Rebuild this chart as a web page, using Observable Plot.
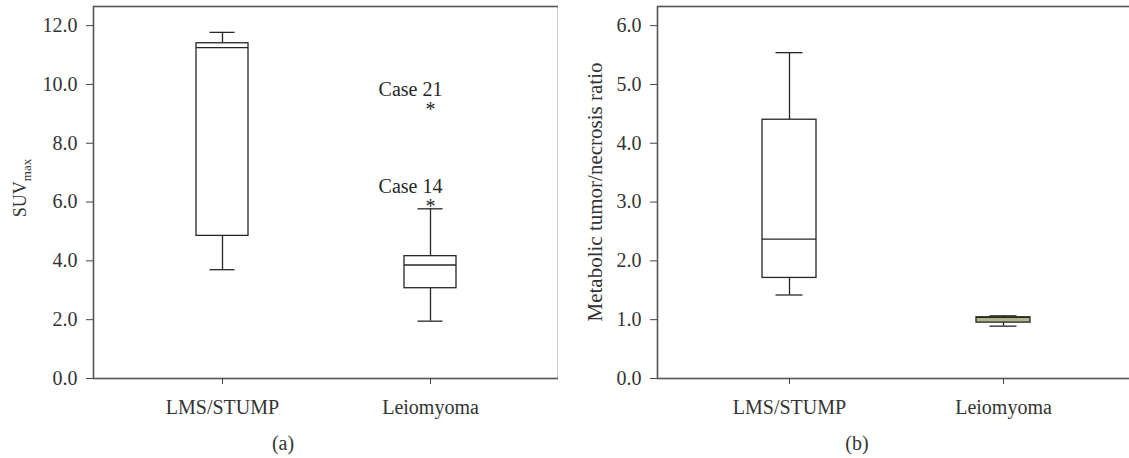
<!DOCTYPE html>
<html><head><meta charset="utf-8">
<script src="https://cdn.jsdelivr.net/npm/d3@7"></script>
<script src="https://cdn.jsdelivr.net/npm/@observablehq/plot@0.6"></script>
<style>
body{margin:0;background:#fff}
#wrap{position:relative;width:1129px;height:458px;overflow:hidden;font-family:"Liberation Serif",serif;color:#333}
.panel{position:absolute;top:0}
.cap{position:absolute;font-size:20px;transform:translate(-50%,-50%);font-family:"Liberation Serif",serif;color:#333}
</style></head>
<body><div id="wrap"></div>
<script>
// ---- data ----
const groups = ["LMS/STUMP", "Leiomyoma"];
// panel (a): SUVmax
const suvLow  = [3.70, 1.95];
const suvQ1   = [4.85, 3.07];
const suvMed  = [11.25, 3.86];
const suvQ3   = [11.40, 4.16];
const suvHigh = [11.77, 5.77];
const outGroup = ["Leiomyoma", "Leiomyoma"];
const outValue = [9.31, 6.02];
const outLabel = ["Case 21", "Case 14"];
// panel (b): metabolic tumor/necrosis ratio
const ratioLow  = [1.42, 0.89];
const ratioQ1   = [1.71, 0.95];
const ratioMed  = [2.37, 1.04];
const ratioQ3   = [4.40, 1.04];
const ratioHigh = [5.54, 1.065];
const ratioFill = ["#ffffff", "#b4b48a"];
const suvTicks = [0, 2, 4, 6, 8, 10, 12];
const ratioTicks = [0, 1, 2, 3, 4, 5, 6];

const wrap = document.getElementById("wrap");
const ink = "#262626";
const FONT = "'Liberation Serif', serif";

function panel({left, width, marginLeft, yMax, ticks, rows, outliers, pInner, pOuter, title, titleX, titleSize, sub}) {
  const marks = [
    Plot.frame({stroke: "#555", strokeWidth: 1.6}),
    Plot.axisY({ticks, tickFormat: ".1f", tickSize: 7, tickPadding: 9, label: null, stroke: "#444", fill: "#333"}),
    Plot.axisX({tickSize: 6, tickPadding: 15, label: null, stroke: "#444", fill: "#333"}),
    Plot.ruleX(rows, {x: "g", y1: "low", y2: "q1", stroke: ink, strokeWidth: 1.3}),
    Plot.ruleX(rows, {x: "g", y1: "q3", y2: "high", stroke: ink, strokeWidth: 1.3}),
    Plot.tickY(rows, {x: "g", y: "low", stroke: ink, strokeWidth: 1.3, insetLeft: 13.5, insetRight: 13.5}),
    Plot.tickY(rows, {x: "g", y: "high", stroke: ink, strokeWidth: 1.3, insetLeft: 13.5, insetRight: 13.5}),
    Plot.barY(rows, {x: "g", y1: "q1", y2: "q3", fill: "fill", stroke: ink, strokeWidth: 1.3}),
    Plot.tickY(rows, {x: "g", y: "med", stroke: ink, strokeWidth: 1.3})
  ];
  if (outliers) {
    marks.push(Plot.text(outliers, {x: "g", y: "v", text: () => "*", dy: 5, fontSize: 20, fill: ink}));
    marks.push(Plot.text(outliers, {x: "g", y: "v", text: "label", dx: -20, dy: -15, fontSize: 20, fill: ink}));
  }
  const chart = Plot.plot({
    width, height: 430,
    marginLeft, marginRight: 0, marginTop: 6, marginBottom: 52,
    style: {fontFamily: FONT, fontSize: "20px", color: "#333", background: "transparent"},
    x: {type: "band", domain: groups, paddingInner: pInner, paddingOuter: pOuter},
    y: {domain: [0, yMax]},
    color: {type: "identity"},
    marks
  });
  const svg = d3.select(chart);
  svg.selectAll('[aria-label$="tick label"]').style("font-size", "20px").style("font-family", FONT);
  svg.selectAll('[aria-label$="tick label"] text').style("font-size", "20px");
  const t = svg.append("text")
    .attr("transform", `translate(${titleX},${6 + 372 / 2 + (sub ? -4 : 0)}) rotate(-90)`)
    .attr("text-anchor", "middle").attr("fill", "#333")
    .style("font-size", titleSize + "px").style("font-family", FONT);
  t.append("tspan").text(title);
  if (sub) t.append("tspan").attr("dy", 5).style("font-size", "13px").text(sub);
  chart.classList.add("panel");
  chart.style.left = left + "px";
  wrap.appendChild(chart);
}

const suvRows = groups.map((g, i) => ({g, low: suvLow[i], q1: suvQ1[i], med: suvMed[i], q3: suvQ3[i], high: suvHigh[i], fill: "#ffffff"}));
const ratioRows = groups.map((g, i) => ({g, low: ratioLow[i], q1: ratioQ1[i], med: ratioMed[i], q3: ratioQ3[i], high: ratioHigh[i], fill: ratioFill[i]}));
const outs = outGroup.map((g, i) => ({g, v: outValue[i], label: outLabel[i]}));

panel({left: 0, width: 558, marginLeft: 93, yMax: 12.65, ticks: suvTicks, rows: suvRows, outliers: outs,
       pInner: 0.751, pOuter: 0.488, title: "SUV", sub: "max", titleX: 26, titleSize: 18});
panel({left: 560, width: 574, marginLeft: 97, yMax: 6.325, ticks: ratioTicks, rows: ratioRows, outliers: null,
       pInner: 0.749, pOuter: 0.484, title: "Metabolic tumor/necrosis ratio", sub: null, titleX: 42, titleSize: 21});

for (const [txt, x] of [["(a)", 283], ["(b)", 857]]) {
  const d = document.createElement("div");
  d.className = "cap"; d.textContent = txt;
  d.style.left = x + "px"; d.style.top = "443px";
  wrap.appendChild(d);
}
</script>
</body></html>
